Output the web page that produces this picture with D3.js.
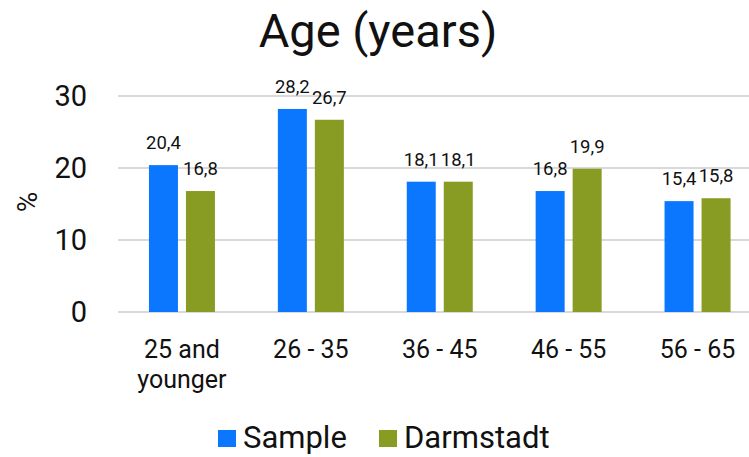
<!DOCTYPE html>
<html>
<head>
<meta charset="utf-8">
<script src="https://cdn.jsdelivr.net/npm/d3@7"></script>
<style>
  body { margin: 0; background: #fff; }
  text { font-family: Roboto, "DejaVu Sans", sans-serif; fill: #111; }
</style>
</head>
<body>
<div id="chart"></div>
<script>
const categories = [["25 and", "younger"], ["26 - 35"], ["36 - 45"], ["46 - 55"], ["56 - 65"]];
const seriesNames = ["Sample", "Darmstadt"];
const sample = [20.4, 28.2, 18.1, 16.8, 15.4];
const darmstadt = [16.8, 26.7, 18.1, 19.9, 15.8];
const yTicks = [0, 10, 20, 30];
const colors = ["#0b77ff", "#889b22"];

const width = 749, height = 457;
const svg = d3.select("#chart").append("svg").attr("width", width).attr("height", height);

const x = d3.scaleBand().domain(d3.range(categories.length)).range([117.5, 762]);
const y = d3.scaleLinear().domain([0, 30]).range([312, 96]);

// gridlines
svg.append("g").selectAll("line").data(yTicks).join("line")
  .attr("x1", 118).attr("x2", width)
  .attr("y1", d => y(d)).attr("y2", d => y(d))
  .attr("stroke", "#d9d9d9").attr("stroke-width", 2);

// y axis labels
const yAxis = svg.append("g").attr("transform", "translate(87,0)")
  .call(d3.axisLeft(y).tickValues(yTicks).tickSize(0).tickPadding(0));
yAxis.select(".domain").remove();
yAxis.selectAll("text").style("font-size", "29px").style("font-family", "Roboto").attr("fill", "#111");

svg.append("text").attr("transform", "translate(37,202) rotate(-90)")
  .attr("text-anchor", "middle").style("font-size", "28px").text("%");

// title
svg.append("text").attr("x", 378).attr("y", 47).attr("text-anchor", "middle")
  .style("font-size", "47px").text("Age (years)");

const barW = 29, gap = 8;
const series = [sample, darmstadt];

series.forEach((vals, s) => {
  const off = (x.bandwidth() - (barW * 2 + gap)) / 2;
  const g = svg.append("g");
  g.selectAll("rect").data(vals).join("rect")
    .attr("x", (d, i) => x(i) + off + s * (barW + gap))
    .attr("y", d => y(d))
    .attr("width", barW)
    .attr("height", d => y(0) - y(d))
    .attr("fill", colors[s]);
  g.selectAll("text").data(vals).join("text")
    .attr("x", (d, i) => x(i) + off + s * (barW + gap) + barW / 2)
    .attr("y", d => y(d) - 16)
    .attr("text-anchor", "middle")
    .style("font-size", "18.5px")
    .text(d => d3.format(".1f")(d).replace(".", ","));
});

// category labels
const cat = svg.append("g").selectAll("text").data(categories).join("text")
  .attr("text-anchor", "middle")
  .style("font-size", "25px");
cat.each(function(lines, i) {
  const t = d3.select(this);
  lines.forEach((l, k) => {
    t.append("tspan").attr("x", x(i) + x.bandwidth() / 2).attr("y", 358 + k * 30).text(l);
  });
});

// legend
const legend = svg.append("g");
const legendX = [218, 379];
seriesNames.forEach((n, s) => {
  legend.append("rect").attr("x", legendX[s]).attr("y", 430).attr("width", 18).attr("height", 17).attr("fill", colors[s]);
  legend.append("text").attr("x", legendX[s] + 25).attr("y", 448).style("font-size", "31px").text(n);
});
</script>
</body>
</html>
